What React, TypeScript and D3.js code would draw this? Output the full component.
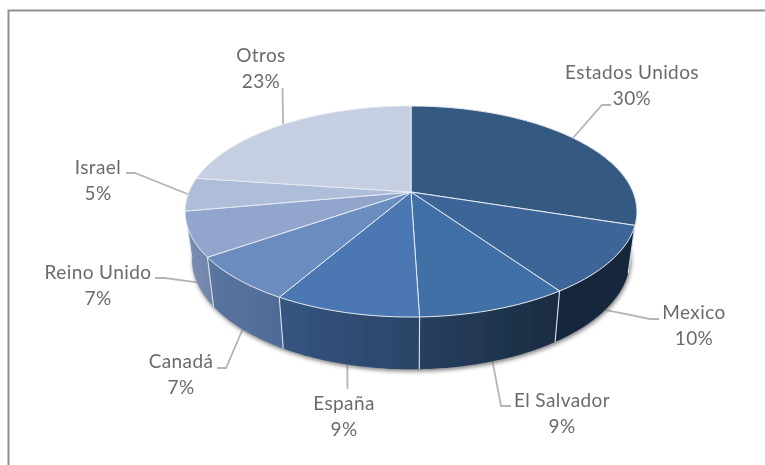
import React from "react";
import * as d3 from "d3";

const categories = ["Estados Unidos", "Mexico", "El Salvador", "España", "Canadá", "Reino Unido", "Israel", "Otros"];
const values = [30.0, 10.4, 9.1, 8.8, 7.0, 6.8, 5.1, 22.8];
const topColors = ["#355a82", "#3d6597", "#4170a5", "#4b78b3", "#6a8cbf", "#92a6cd", "#afbed8", "#c6cfe2"];
const sideStart = ["#18283e", "#18283e", "#27405f", "#35547f", "#5a749f", "#7a8cb0", "#8a9ac0", "#9aa6c4"];
const sideEnd = ["#18283e", "#18283e", "#1a2c42", "#2b4468", "#4f6a96", "#6f83a9", "#8a9ac0", "#9aa6c4"];
const labelCenters = [[632, 72], [694, 312], [562, 400], [344, 403], [181, 361], [98, 272], [98, 167], [261, 55]];
const leaderElbows = [[[611, 105], [602, 105]], [[659, 319], [650, 319]], [[511, 406], [501, 406]], [[347.5, 389]], [[217, 368], [226, 368]], [[155, 278], [165, 278]], [[126, 173], [135, 173]], [[282.5, 88]]];
const leaderOnTop = [true, false, false, false, false, false, true, true];

const W = 765, H = 465;
const cx = 411, cy = 192;
const k = 0.185, a = 222, b = 101.9;
const bottomX = 0.97, bottomY = 1.05, bottomShift = 46;

const total = d3.sum(values);
const cumulative = d3.cumsum(values);
const angle = d3.scaleLinear().domain([0, total]).range([0, 2 * Math.PI]);

function topPoint(t: number): [number, number] {
  const u = Math.sin(t), v = -Math.cos(t);
  const s = 1 / (1 - k * v);
  return [cx + a * u * s, cy + b * v * s];
}
function bottomPoint(t: number): [number, number] {
  const [x, y] = topPoint(t);
  return [cx + (x - cx) * bottomX, cy + bottomShift + (y - cy) * bottomY];
}
function samples(t0: number, t1: number): number[] {
  const n = Math.max(2, Math.ceil((t1 - t0) / 0.02));
  return d3.range(n + 1).map((i) => t0 + ((t1 - t0) * i) / n);
}
const line = d3.line<[number, number]>();

const slices = values.map((_, i) => {
  const t0 = angle(i === 0 ? 0 : cumulative[i - 1]);
  const t1 = angle(cumulative[i]);
  return { i, t0, t1, mid: (t0 + t1) / 2 };
});

const font = "Lato, Carlito, 'Open Sans', sans-serif";

export default function App() {
  const ts = samples(0, 2 * Math.PI);
  const sideOrder = [7, 0, 6, 1, 5, 2, 4, 3];
  return (
    <svg width={W} height={H} viewBox={`0 0 ${W} ${H}`} style={{ position: "absolute", left: 0, top: 0, background: "#fff" }}>
      <defs>
        <filter id="sh" x="-10%" y="-10%" width="120%" height="120%"><feGaussianBlur stdDeviation="2" /></filter>
        <filter id="soft" x="-5%" y="-5%" width="110%" height="110%"><feGaussianBlur stdDeviation="0.35" /></filter>
        {slices.map((s) => {
          const [x0] = bottomPoint(s.t1);
          const [x1] = bottomPoint(s.t0);
          return (
            <linearGradient key={s.i} id={`g${s.i}`} gradientUnits="userSpaceOnUse" x1={Math.min(x0, x1)} x2={Math.max(x0, x1)} y1="0" y2="0">
              <stop offset="0" stopColor={sideStart[s.i]} />
              <stop offset="1" stopColor={sideEnd[s.i]} />
            </linearGradient>
          );
        })}
      </defs>
      <path d="M 8.5 465 V 10.5 H 765" fill="none" stroke="#8f8f8f" strokeWidth="2" />
      <g fill="none" stroke="#b5b5b5" strokeWidth="1.8">
        {slices.map((s) => {
          const start = leaderOnTop[s.i] ? topPoint(s.mid) : bottomPoint(s.mid);
          const pts = [...(leaderElbows[s.i] as [number, number][]), start];
          return <path key={s.i} d={line(pts) ?? ""} />;
        })}
      </g>
      <path
        d={line(ts.map((t) => { const [x, y] = bottomPoint(t); return [x + 1, y + 2] as [number, number]; })) + "Z"}
        fill="#666" opacity="0.85" filter="url(#sh)"
      />
      <g filter="url(#soft)">
        {sideOrder.map((i) => {
          const s = slices[i];
          const arc = samples(s.t0, s.t1);
          const pts = [...arc.map(topPoint), ...arc.slice().reverse().map(bottomPoint)];
          return <path key={i} d={line(pts) + "Z"} fill={`url(#g${i})`} />;
        })}
        {slices.filter((s) => Math.sin(s.t0) > -0.99 && s.t0 > Math.PI / 2 && s.t0 < 1.45 * Math.PI).map((s) => (
          <path key={s.i} d={line([topPoint(s.t0), bottomPoint(s.t0)]) ?? ""} stroke="#dfe5ee" strokeWidth="1.1" />
        ))}
        {slices.map((s) => {
          const pts: [number, number][] = [[cx, cy], ...samples(s.t0, s.t1).map(topPoint)];
          return <path key={s.i} d={line(pts) + "Z"} fill={topColors[s.i]} stroke="#e6ebf3" strokeWidth="1" strokeLinejoin="round" />;
        })}
      </g>
      <g fontFamily={font} fontSize="19" letterSpacing="0.4" fill="#6b6b6b" textAnchor="middle" filter="url(#soft)">
        {categories.map((c, i) => (
          <g key={c}>
            <text x={labelCenters[i][0]} y={labelCenters[i][1] + 6.5}>{c}</text>
            <text x={labelCenters[i][0]} y={labelCenters[i][1] + 32.5}>{`${d3.format(".0f")(values[i])}%`}</text>
          </g>
        ))}
      </g>
    </svg>
  );
}
